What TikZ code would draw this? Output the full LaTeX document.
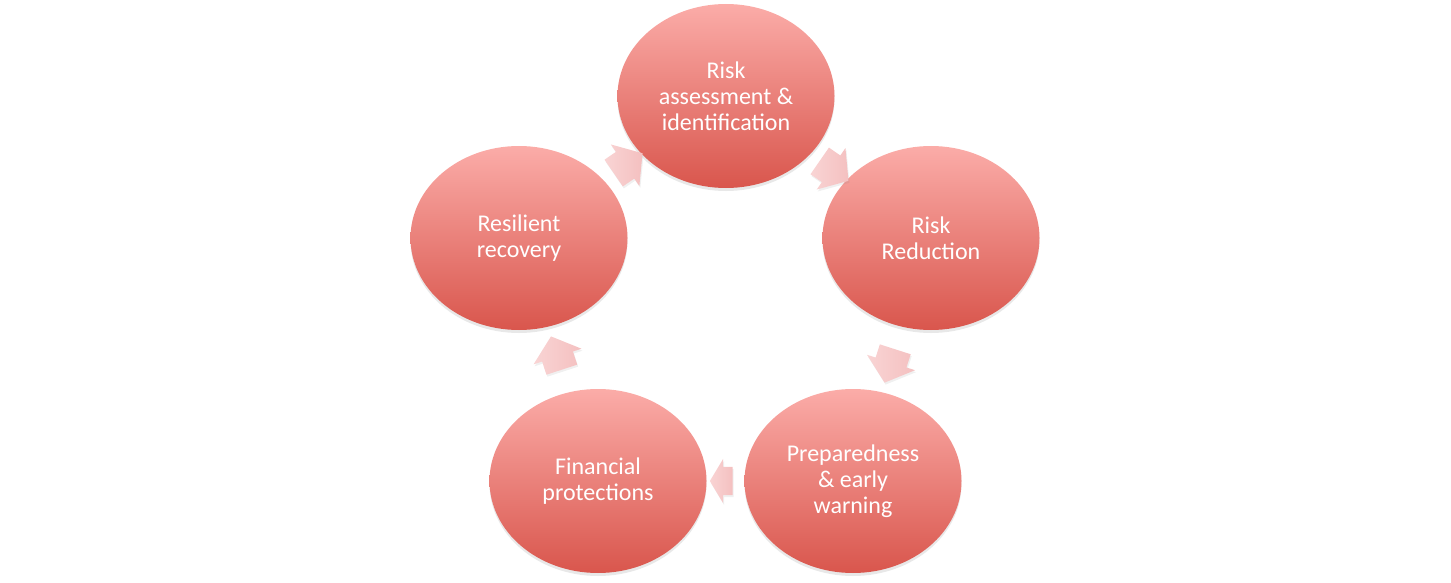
\documentclass[tikz,border=0pt]{standalone}
\usepackage{fontspec}
\setmainfont{Carlito}
\usetikzlibrary{shapes.geometric, shapes.arrows, shadows}
\definecolor{stagetop}{RGB}{251,172,168}
\definecolor{stagebot}{RGB}{217,86,77}
\definecolor{arrowhead}{RGB}{244,192,192}
\definecolor{arrowtail}{RGB}{249,212,212}

\begin{document}
\begin{tikzpicture}[
        x=1pt, y=-1pt,
        stage/.style={ellipse, minimum width=217pt, minimum height=184pt,
            inner sep=0pt, align=center, text=white,
            font=\fontsize{24}{26}\selectfont,
            top color=stagetop, bottom color=stagebot,
            drop shadow={opacity=0.18, shadow xshift=0pt, shadow yshift=-3pt}},
        cyclearrow/.style={single arrow, sloped, allow upside down,
            minimum height=0pt, minimum width=0pt,
            inner xsep=10.5pt, inner ysep=16pt,
            single arrow head extend=9pt, single arrow head indent=0pt,
            single arrow tip angle=100,
            left color=arrowtail, right color=arrowhead,
            drop shadow={opacity=0.12, shadow xshift=1pt, shadow yshift=-2pt}},
        shortarrow/.style={inner xsep=6.9pt, inner ysep=14pt,
            single arrow head extend=8pt, single arrow tip angle=118}
    ]
    \useasboundingbox (0,0) rectangle (1451,583);
    % the five stages
    \node[stage] (assess)  at (726,96)  {Risk\\assessment \&\\identification};
    \node[stage] (reduce)  at (931,238) {Risk\\Reduction};
    \node[stage] (prepare) at (853,481) {Preparedness\\\& early\\warning};
    \node[stage] (finance) at (598,481) {Financial\\protections};
    \node[stage] (recover) at (519,238) {Resilient\\recovery};
    % arrows between them
    \path (recover) -- node[cyclearrow] (a1) {} (assess);
    \path (assess)  -- node[cyclearrow] (a2) {} (reduce);
    \path (reduce)  -- node[cyclearrow] (a3) {} (prepare);
    \path (prepare) -- node[cyclearrow, shortarrow] (a4) {} (finance);
    \path (finance) -- node[cyclearrow] (a5) {} (recover);
\end{tikzpicture}
\end{document}
